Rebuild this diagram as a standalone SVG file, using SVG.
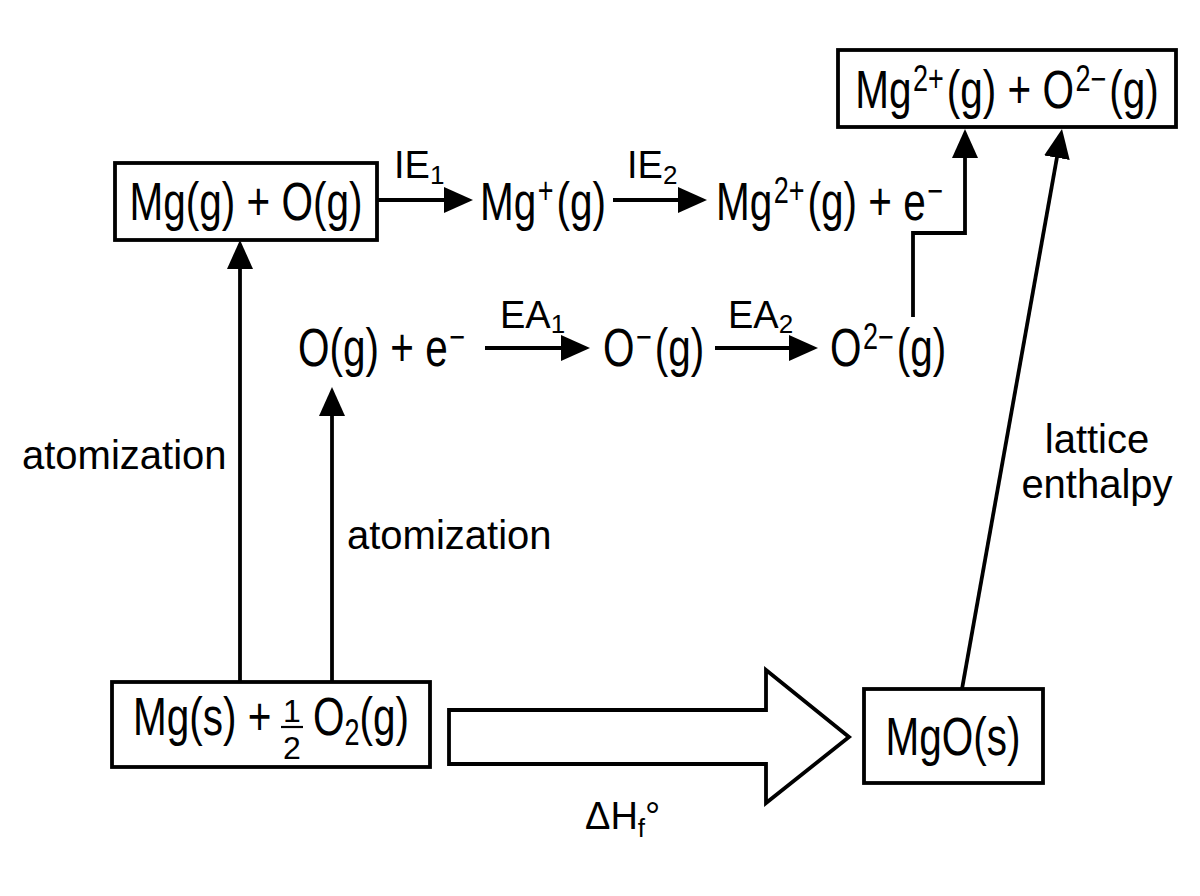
<svg xmlns="http://www.w3.org/2000/svg" width="1200" height="896" viewBox="0 0 1200 896">
<style>
.bg{fill:#ffffff}
.box{fill:#ffffff;stroke:#000;stroke-width:3.8}
.ln{fill:none;stroke:#000;stroke-width:3.8}
.f{font-family:"Liberation Sans",Arial,sans-serif;font-size:54px;fill:#000}
.sup{font-size:36px}
.frac{font-family:"Liberation Sans",Arial,sans-serif;font-size:32px;fill:#000}
.lb{font-family:"Liberation Sans",Arial,sans-serif;font-size:40px;fill:#000}
.sm{font-family:"Liberation Sans",Arial,sans-serif;font-size:38px;fill:#000}
.sub{font-size:26px}
</style>
<defs>
<marker id="ah" markerUnits="userSpaceOnUse" markerWidth="32" markerHeight="30" refX="21" refY="13" orient="auto">
<path d="M0,0 L29,13 L0,26 z" fill="#000"/>
</marker>
</defs>
<rect class="bg" x="0" y="0" width="1200" height="896"/>

<g id="connectors">
<line class="ln" x1="240" y1="682" x2="240" y2="248" marker-end="url(#ah)"/>
<line class="ln" x1="332" y1="682" x2="332" y2="395" marker-end="url(#ah)"/>
<line class="ln" x1="377" y1="200" x2="465" y2="200" marker-end="url(#ah)"/>
<line class="ln" x1="613" y1="200" x2="699" y2="200" marker-end="url(#ah)"/>
<line class="ln" x1="485" y1="348" x2="582" y2="348" marker-end="url(#ah)"/>
<line class="ln" x1="715" y1="348" x2="810" y2="348" marker-end="url(#ah)"/>
<polyline class="ln" points="913,317 913,233 965,233 965,137" marker-end="url(#ah)"/>
<line class="ln" x1="962" y1="689" x2="1060.6" y2="137" marker-end="url(#ah)"/>
<polygon id="formation-arrow" class="box" stroke-width="4" points="449,710 766,710 766,670 849,737 766,803 766,764 449,764"/>
<text class="sm" x="394" y="178">IE<tspan class="sub" dy="6">1</tspan></text>
<text class="sm" x="627" y="178">IE<tspan class="sub" dy="6">2</tspan></text>
<text class="sm" x="500" y="328">EA<tspan class="sub" dy="5">1</tspan></text>
<text class="sm" x="728" y="328">EA<tspan class="sub" dy="5">2</tspan></text>
<text class="lb" x="22" y="469">atomization</text>
<text class="lb" x="347" y="549">atomization</text>
<text class="lb" x="1097" y="453" text-anchor="middle">lattice</text>
<text class="lb" x="1097" y="498" text-anchor="middle">enthalpy</text>
<text class="sm" x="585" y="829">ΔH<tspan class="sub" dy="8">f</tspan><tspan dy="-8">°</tspan></text>
</g>

<g id="node-mg-o-gas">
<rect class="box" x="115" y="163" width="262" height="77"/>
<text class="f" text-anchor="middle" transform="translate(246,220) scale(0.75,1)">Mg(g) + O(g)</text>
</g>

<g id="node-mg-plus">
<text class="f" transform="translate(480,220) scale(0.75,1)">Mg<tspan class="sup" dx="2" dy="-17">+</tspan><tspan dx="4" dy="17">(g)</tspan></text>
</g>

<g id="node-mg-2plus-e">
<text class="f" transform="translate(716,220) scale(0.75,1)">Mg<tspan class="sup" dx="2" dy="-17">2+</tspan><tspan dx="4" dy="17">(g) + e</tspan><tspan class="sup" dx="2" dy="-17">−</tspan></text>
</g>

<g id="node-ions">
<rect class="box" x="838" y="50" width="338" height="77"/>
<text class="f" text-anchor="middle" transform="translate(1007,108) scale(0.75,1)">Mg<tspan class="sup" dx="2" dy="-17">2+</tspan><tspan dx="4" dy="17">(g) + O</tspan><tspan class="sup" dx="2" dy="-17">2−</tspan><tspan dx="4" dy="17">(g)</tspan></text>
</g>

<g id="node-o-e">
<text class="f" transform="translate(298,366) scale(0.75,1)">O(g) + e<tspan class="sup" dx="2" dy="-17">−</tspan></text>
</g>

<g id="node-o-minus">
<text class="f" transform="translate(603,366) scale(0.75,1)">O<tspan class="sup" dx="2" dy="-17">−</tspan><tspan dx="4" dy="17">(g)</tspan></text>
</g>

<g id="node-o-2minus">
<text class="f" transform="translate(830,366) scale(0.75,1)">O<tspan class="sup" dx="2" dy="-17">2−</tspan><tspan dx="4" dy="17">(g)</tspan></text>
</g>

<g id="node-elements">
<rect class="box" x="112" y="682" width="318" height="85"/>
<text class="f" transform="translate(133,735) scale(0.75,1)">Mg(s) +</text>
<text class="frac" x="292" y="722" text-anchor="middle">1</text>
<line x1="281" y1="727" x2="303" y2="727" stroke="#000" stroke-width="2.2"/>
<text class="frac" x="292" y="759" text-anchor="middle">2</text>
<text class="f" transform="translate(313,735) scale(0.75,1)">O<tspan class="sup" dy="10">2</tspan><tspan dy="-10">(g)</tspan></text>
</g>

<g id="node-mgo">
<rect class="box" x="864" y="689" width="179" height="94"/>
<text class="f" text-anchor="middle" transform="translate(953,755) scale(0.75,1)">MgO(s)</text>
</g>
</svg>
